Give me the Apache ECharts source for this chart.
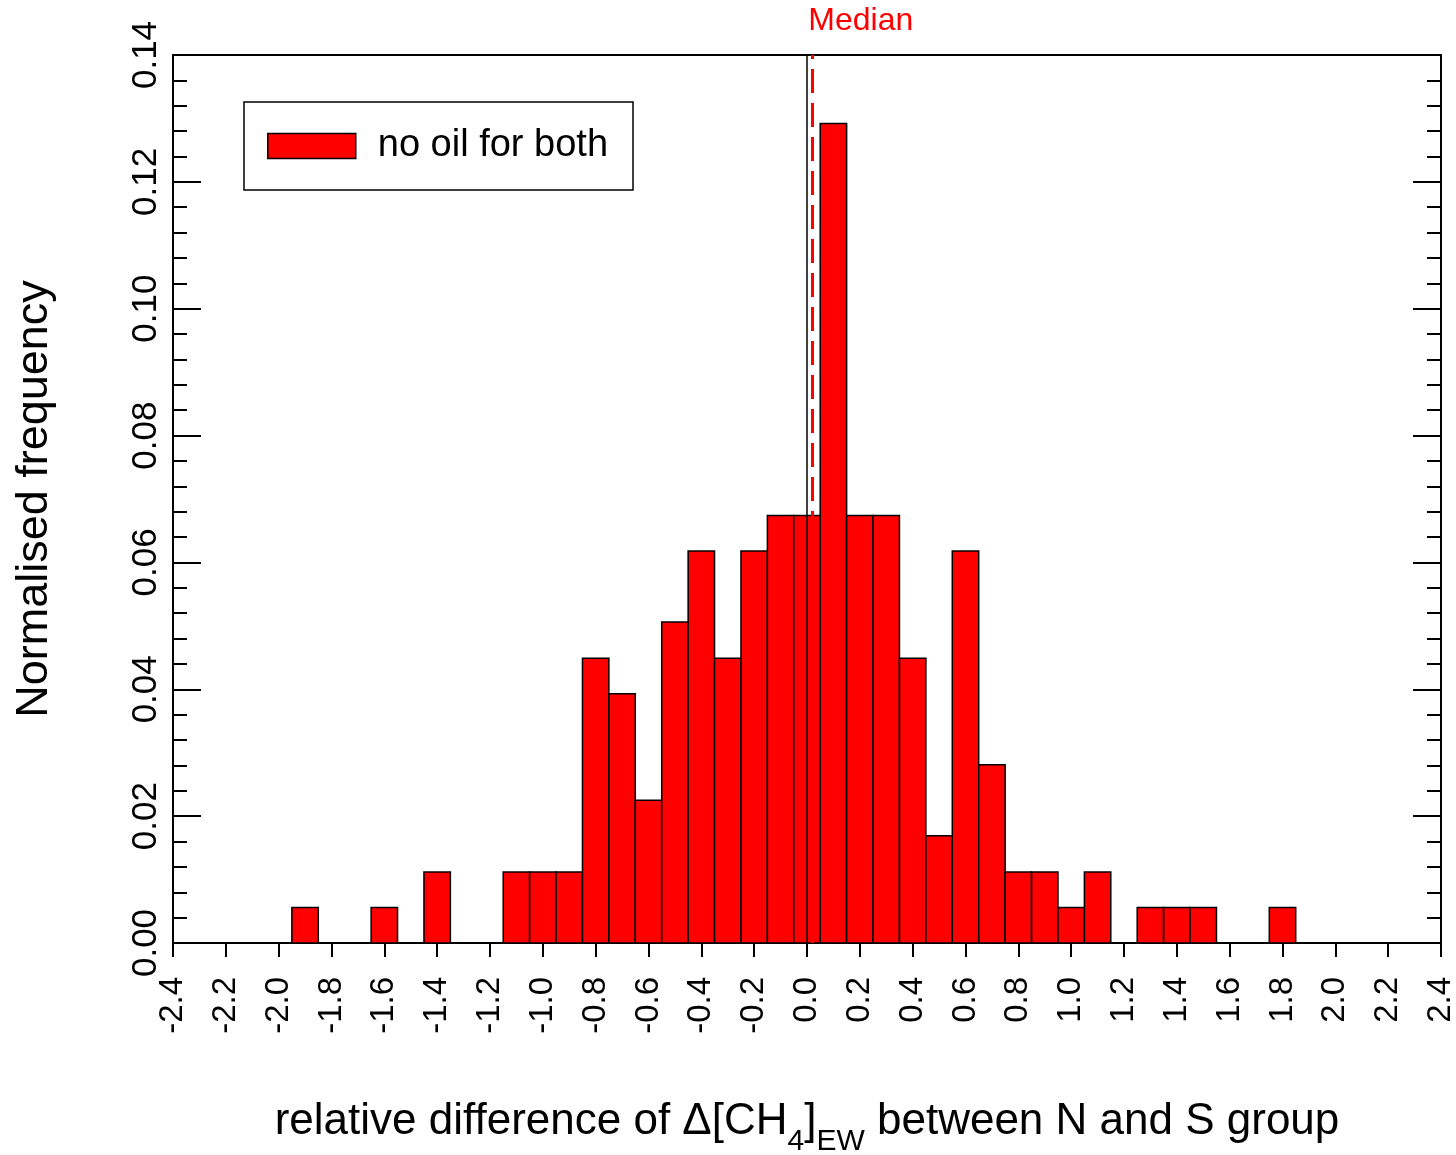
<!DOCTYPE html>
<html>
<head>
<meta charset="utf-8">
<script src="https://cdn.jsdelivr.net/npm/echarts@6/dist/echarts.min.js"></script>
<style>
    html, body { margin: 0; padding: 0; background: #fff; }
    #chart { width: 1456px; height: 1155px; }
</style>
</head>
<body>
<div id="chart"></div>
<script>
    // histogram bins (centre of each 0.1 wide bin) and normalised frequency
    const binWidth = 0.1;
    const binCenters = [-1.9, -1.6, -1.4, -1.1, -1.0, -0.9, -0.8, -0.7, -0.6, -0.5,
        -0.4, -0.3, -0.2, -0.1, 0.0, 0.1, 0.2, 0.3, 0.4, 0.5,
        0.6, 0.7, 0.8, 0.9, 1.0, 1.1, 1.3, 1.4, 1.5, 1.8];
    const frequencies = [0.0056, 0.0056, 0.0112, 0.0112, 0.0112, 0.0112, 0.0449, 0.0393, 0.0225, 0.0506,
        0.0618, 0.0449, 0.0618, 0.0674, 0.0674, 0.1292, 0.0674, 0.0674, 0.0449, 0.0169,
        0.0618, 0.0281, 0.0112, 0.0112, 0.0056, 0.0112, 0.0056, 0.0056, 0.0056, 0.0056];
    const medianValue = 0.02;
    const zeroValue = 0;
    const seriesName = 'no oil for both';

    const xTicks = { min: -2.4, max: 2.4, interval: 0.2 };
    const yTicks = { min: 0, max: 0.14, interval: 0.02 };

    const font = '"Liberation Sans", Arial, sans-serif';
    const barColor = '#fe0000';

    let chart = echarts.init(document.getElementById('chart'), null, { renderer: 'canvas' });

    function fmt(v, d) {
        if (Math.abs(v) < 1e-9) v = 0;
        return v.toFixed(d);
    }

    function renderBar(params, api) {
        let x = api.value(0), y = api.value(1);
        let p0 = api.coord([x - binWidth / 2, y]);
        let p1 = api.coord([x + binWidth / 2, 0]);
        return {
            type: 'rect',
            shape: { x: p0[0], y: p0[1], width: p1[0] - p0[0], height: p1[1] - p0[1] },
            style: { fill: barColor, stroke: '#000', lineWidth: 1.5 }
        };
    }

    const yAxisBase = {
        type: 'value',
        min: yTicks.min,
        max: yTicks.max,
        interval: yTicks.interval,
        axisLine: { show: true, onZero: false, lineStyle: { color: '#000', width: 2 } },
        axisTick: { show: true, inside: true, length: 28, lineStyle: { color: '#000', width: 2 } },
        minorTick: { show: true, splitNumber: 5, length: 14, lineStyle: { color: '#000', width: 2 } },
        splitLine: { show: false }
    };

    chart.setOption({
        animation: false,
        backgroundColor: '#fff',
        grid: { left: 173, right: 15, top: 55, bottom: 212, outerBoundsMode: 'none', containLabel: false },
        legend: {
            left: 244,
            top: 102,
            orient: 'vertical',
            padding: [25, 25, 25, 23],
            borderColor: '#000',
            borderWidth: 1.5,
            backgroundColor: '#fff',
            itemWidth: 88,
            itemHeight: 25,
            icon: 'rect',
            itemStyle: { color: barColor, borderColor: '#000', borderWidth: 1.5 },
            textStyle: { fontSize: 38, fontFamily: font, color: '#000', padding: [0, 0, 0, 17] },
            data: [seriesName]
        },
        xAxis: [{
            type: 'value',
            position: 'bottom',
            min: xTicks.min,
            max: xTicks.max,
            interval: xTicks.interval,
            axisLine: { show: true, onZero: false, lineStyle: { color: '#000', width: 2 } },
            axisTick: { show: true, inside: false, length: 14, lineStyle: { color: '#000', width: 2 } },
            splitLine: { show: false },
            axisLabel: {
                rotate: 90,
                margin: 34,
                fontSize: 33,
                fontFamily: font,
                color: '#000',
                formatter: v => fmt(v, 1)
            },
            name: '{t|relative difference of \u0394[CH}{s|4}{t|]}{s|EW}{t| between N and S group}',
            nameLocation: 'middle',
            nameGap: 144,
            nameTextStyle: {
                color: '#000',
                fontFamily: font,
                rich: {
                    t: { fontSize: 44, lineHeight: 70, verticalAlign: 'middle', fontFamily: font, color: '#000' },
                    s: { fontSize: 30, lineHeight: 30, verticalAlign: 'bottom', fontFamily: font, color: '#000' }
                }
            }
        }, {
            type: 'value',
            position: 'top',
            min: xTicks.min,
            max: xTicks.max,
            interval: xTicks.interval,
            axisLine: { show: true, onZero: false, lineStyle: { color: '#000', width: 2 } },
            axisTick: { show: false },
            axisLabel: { show: false },
            splitLine: { show: false }
        }],
        yAxis: [Object.assign({}, yAxisBase, {
            position: 'left',
            axisLabel: {
                rotate: 90,
                margin: 9,
                fontSize: 35,
                fontFamily: font,
                color: '#000',
                formatter: v => fmt(v, 2)
            },
            name: 'Normalised frequency',
            nameLocation: 'middle',
            nameGap: 116,
            nameTextStyle: { fontSize: 45, fontFamily: font, color: '#000' }
        }), Object.assign({}, yAxisBase, {
            position: 'right',
            axisLabel: { show: false }
        })],
        series: [{
            name: seriesName,
            type: 'custom',
            renderItem: renderBar,
            itemStyle: { color: barColor },
            encode: { x: 0, y: 1 },
            data: binCenters.map((c, i) => [c, frequencies[i]]),
            z: 2,
            markLine: {
                silent: true,
                symbol: 'none',
                animation: false,
                data: [{
                    xAxis: zeroValue,
                    lineStyle: { color: '#000', type: 'solid', width: 1.5 },
                    label: { show: false }
                }, {
                    xAxis: medianValue,
                    lineStyle: { color: '#ff0000', type: [24, 10], width: 3 },
                    label: {
                        show: true,
                        position: 'end',
                        align: 'left',
                        distance: 18,
                        offset: [-4, 0],
                        formatter: 'Median',
                        color: '#ff0000',
                        fontSize: 32,
                        fontFamily: font
                    }
                }]
            }
        }]
    });
</script>
</body>
</html>
